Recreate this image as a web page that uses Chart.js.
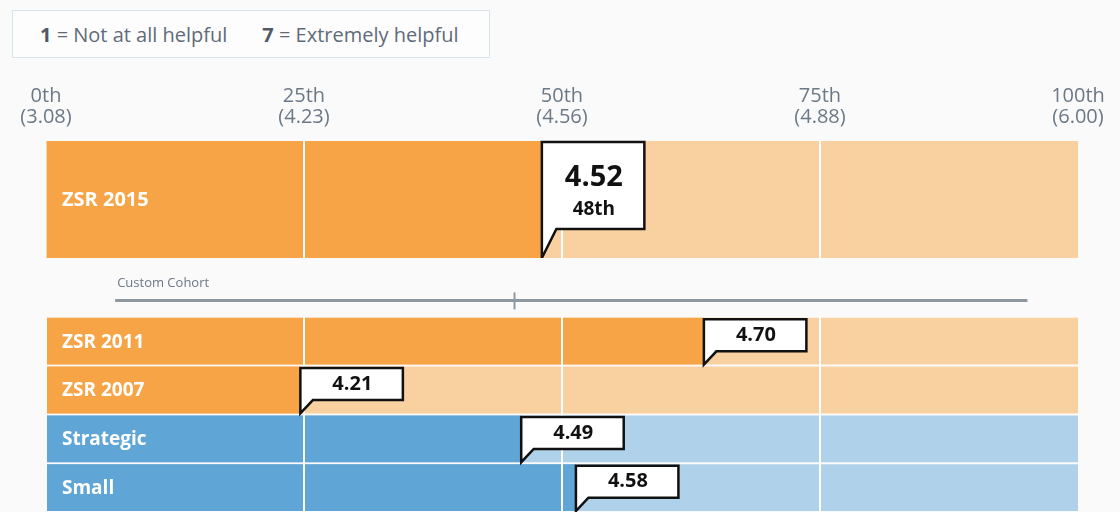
<!DOCTYPE html>
<html>
<head>
<meta charset="utf-8">
<script src="https://cdn.jsdelivr.net/npm/chart.js@4.4.1/dist/chart.umd.min.js"></script>
<style>
    html, body { margin: 0; padding: 0; background: #fafafa; }
    body { width: 1120px; height: 512px; position: relative; overflow: hidden; font-family: 'Open Sans', sans-serif; }
    .scale-key {
        position: absolute; left: 12px; top: 10px; width: 478px; height: 48px; box-sizing: border-box;
        border: 1px solid #d6e2ec; background: #fdfdfd; color: #5f6b78; font-size: 20px;
        display: flex; align-items: center; padding-left: 27px;
    }
    .scale-key b { color: #4f5a66; }
    .scale-key span + span { margin-left: 35px; }
    canvas { position: absolute; left: 0; }
    #topChart { top: 80px; }
    #rowsChart { top: 258px; }
</style>
</head>
<body>
<div class="scale-key"><span><b>1</b> = Not at all helpful</span><span><b>7</b> = Extremely helpful</span></div>
<canvas id="topChart" width="1120" height="178"></canvas>
<canvas id="rowsChart" width="1120" height="254"></canvas>
<script>
// percentile axis
const tickPercentiles = [0, 25, 50, 75, 100];
const tickLabels = [['0th', '(3.08)'], ['25th', '(4.23)'], ['50th', '(4.56)'], ['75th', '(4.88)'], ['100th', '(6.00)']];

// headline row
const topRows = ['ZSR 2015'];
const topPercentiles = [48];
const topScores = ['4.52'];

// comparison rows
const cohortLabel = 'Custom Cohort';
const cohortRange = [6.7, 95.1];
const cohortMarker = 45.4;
const compareRows = ['ZSR 2011', 'ZSR 2007', 'Strategic', 'Small'];
const comparePercentiles = [63.7, 24.6, 46, 51.3];
const compareScores = ['4.70', '4.21', '4.49', '4.58'];

const FONT = "'Open Sans', sans-serif";
const TEXT_GRAY = '#6b7886';
const PAGE_BG = '#fafafa';

function isOwn(label) {
    return label.startsWith('ZSR');
}
function darkColor(label) {
    return isOwn(label) ? '#F7A447' : '#5FA5D6';
}
function lightColor(label) {
    return isOwn(label) ? '#F9D0A0' : '#AFD1E9';
}
function ordinal(n) {
    const r = Math.round(n);
    const s = ['th', 'st', 'nd', 'rd'];
    const v = r % 100;
    return r + (s[(v - 20) % 10] || s[v] || s[0]);
}

const rowLabelPlugin = {
    id: 'rowLabels',
    afterDatasetsDraw(chart, args, opts) {
        const ctx = chart.ctx;
        const meta = chart.getDatasetMeta(1);
        ctx.save();
        ctx.fillStyle = '#fff';
        ctx.font = `bold ${opts.size || 18}px ${FONT}`;
        ctx.textBaseline = 'middle';
        ctx.textAlign = 'left';
        meta.data.forEach((bar, i) => {
            if (chart.data.datasets[1].data[i] == null) return;
            ctx.fillText(chart.data.labels[i], chart.chartArea.left + 16, bar.y + 1);
        });
        ctx.restore();
    }
};

const calloutPlugin = {
    id: 'callouts',
    afterDraw(chart, args, opts) {
        const ctx = chart.ctx;
        const ds = chart.data.datasets[0];
        const meta = chart.getDatasetMeta(0);
        const big = !!opts.big;
        meta.data.forEach((bar, i) => {
            if (ds.data[i] == null) return;
            const tipX = bar.x;
            const top = bar.y - bar.height / 2 + (big ? 1 : 1.5);
            const tipY = bar.y + bar.height / 2;
            const w = 103;
            const h = big ? 87 : 32;
            const tail = big ? 15 : 13;
            ctx.save();
            ctx.beginPath();
            ctx.moveTo(tipX + 0.5, tipY);
            ctx.lineTo(tipX + 0.5, top);
            ctx.lineTo(tipX + w, top);
            ctx.lineTo(tipX + w, top + h);
            ctx.lineTo(tipX + tail, top + h);
            ctx.closePath();
            ctx.fillStyle = '#fff';
            ctx.fill();
            ctx.lineWidth = 2.5;
            ctx.lineJoin = 'miter';
            ctx.strokeStyle = '#111';
            ctx.stroke();
            ctx.fillStyle = '#111';
            ctx.textAlign = 'center';
            ctx.textBaseline = 'middle';
            const cx = tipX + w / 2 + 1;
            if (big) {
                ctx.font = `bold 29px ${FONT}`;
                ctx.fillText(ds.scores[i], cx, top + 36);
                ctx.font = `bold 19px ${FONT}`;
                ctx.fillText(ordinal(ds.data[i]), cx, top + 68);
            } else {
                ctx.font = `bold 20px ${FONT}`;
                ctx.fillText(ds.scores[i], cx, top + h / 2);
            }
            ctx.restore();
        });
    }
};

const cohortPlugin = {
    id: 'cohortLine',
    afterDraw(chart) {
        const ctx = chart.ctx;
        const x = chart.scales.x;
        const y = chart.scales.y;
        const yc = y.getPixelForValue(0);
        const half = (y.getPixelForValue(1) - yc) / 2;
        const x0 = x.getPixelForValue(cohortRange[0]);
        const x1 = x.getPixelForValue(cohortRange[1]);
        const xm = x.getPixelForValue(cohortMarker);
        const ly = yc + 8;
        ctx.save();
        // the cohort band sits on the page, no grid through it
        ctx.fillStyle = PAGE_BG;
        ctx.fillRect(chart.chartArea.left - 2, 0, chart.chartArea.width + 4, yc + half - 1);
        ctx.strokeStyle = '#8d98a1';
        ctx.lineWidth = 3;
        ctx.beginPath();
        ctx.moveTo(x0, ly);
        ctx.lineTo(x1, ly);
        ctx.stroke();
        ctx.lineWidth = 2;
        ctx.beginPath();
        ctx.moveTo(xm, ly - 8);
        ctx.lineTo(xm, ly + 9);
        ctx.stroke();
        ctx.fillStyle = TEXT_GRAY;
        ctx.font = `13px ${FONT}`;
        ctx.textAlign = 'left';
        ctx.textBaseline = 'middle';
        ctx.fillText(cohortLabel, x0 + 2, yc - 9);
        ctx.restore();
    }
};

function gridColor(c) {
    const v = c.tick && c.tick.value;
    return v === 0 || v === 100 ? 'rgba(0,0,0,0)' : '#ffffff';
}

function baseOptions(showTicks) {
    return {
        indexAxis: 'y',
        responsive: false,
        animation: false,
        layout: { padding: { left: 46, right: 42, top: showTicks ? 0 : 10, bottom: 0 } },
        datasets: { bar: { barPercentage: 1, categoryPercentage: showTicks ? 1 : 0.96, grouped: false } },
        plugins: { legend: { display: false }, tooltip: { enabled: false } },
        scales: {
            x: {
                position: showTicks ? 'top' : 'bottom',
                min: 0,
                max: 100,
                afterFit: (s) => { s.height = showTicks ? 61 : 0; },
                ticks: {
                    display: showTicks,
                    stepSize: 25,
                    autoSkip: false,
                    maxRotation: 0,
                    padding: 13,
                    color: TEXT_GRAY,
                    font: { family: FONT, size: 20, lineHeight: 1.05 },
                    callback: (v) => tickLabels[tickPercentiles.indexOf(v)]
                },
                grid: { z: 1, drawTicks: false, lineWidth: 2, color: gridColor },
                border: { display: false }
            },
            y: { display: false }
        }
    };
}

const topOpts = baseOptions(true);
topOpts.plugins.callouts = { big: true };
topOpts.plugins.rowLabels = { size: 20 };
new Chart(document.getElementById('topChart'), {
    type: 'bar',
    data: {
        labels: topRows,
        datasets: [
            { data: topPercentiles, scores: topScores, backgroundColor: topRows.map(darkColor) },
            { data: topRows.map(() => 100), backgroundColor: topRows.map(lightColor) }
        ]
    },
    options: topOpts,
    plugins: [rowLabelPlugin, calloutPlugin]
});

const rowLabels = [cohortLabel].concat(compareRows);
const rowsOpts = baseOptions(false);
rowsOpts.plugins.callouts = { big: false };
rowsOpts.plugins.rowLabels = { size: 19 };
new Chart(document.getElementById('rowsChart'), {
    type: 'bar',
    data: {
        labels: rowLabels,
        datasets: [
            {
                data: [null].concat(comparePercentiles),
                scores: [null].concat(compareScores),
                backgroundColor: rowLabels.map(darkColor)
            },
            {
                data: [null].concat(compareRows.map(() => 100)),
                backgroundColor: rowLabels.map(lightColor)
            }
        ]
    },
    options: rowsOpts,
    plugins: [cohortPlugin, rowLabelPlugin, calloutPlugin]
});
</script>
</body>
</html>
